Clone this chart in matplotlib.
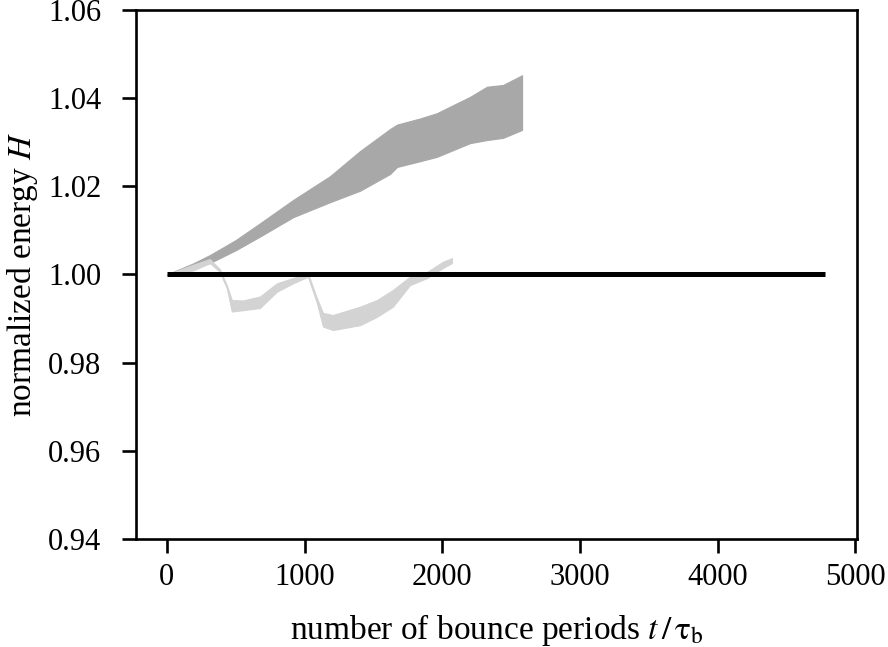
import numpy as np
import matplotlib
matplotlib.use("Agg")
import matplotlib.pyplot as plt

# 数据：包络线
t_dark = [0, 190, 312, 500, 676, 917, 1185, 1403, 1621, 1672, 1839, 1962, 2078, 2202, 2325, 2442, 2580]
dark_hi = [1.0, 1.0025, 1.0044, 1.0078, 1.0116, 1.0169, 1.0223, 1.0280, 1.0330, 1.0340, 1.0354, 1.0366, 1.0384, 1.0403, 1.0426, 1.0430, 1.0452]
dark_lo = [1.0, 1.0014, 1.0026, 1.0055, 1.0086, 1.0130, 1.0164, 1.0190, 1.0228, 1.0244, 1.0257, 1.0267, 1.0282, 1.0298, 1.0305, 1.0310, 1.0328]

t_light = [0, 189, 312, 385, 436, 472, 552, 676, 799, 917, 1025, 1090, 1134, 1206, 1403, 1526, 1642, 1766, 1890, 2006, 2071]
light_hi = [1.0, 1.0022, 1.0035, 1.0012, 0.9975, 0.9942, 0.9941, 0.9950, 0.9980, 0.9992, 1.0003, 0.9946, 0.9913, 0.9908, 0.9927, 0.9942, 0.9965, 0.9995, 1.0006, 1.0029, 1.0037]
light_lo = [1.0, 1.0009, 1.0026, 1.0006, 0.9968, 0.9916, 0.9919, 0.9924, 0.9961, 0.9980, 0.9995, 0.9935, 0.9882, 0.9874, 0.9885, 0.9904, 0.9927, 0.9976, 0.9992, 1.0015, 1.0026]

t_black = [0, 4782]
h_black = [1.0, 1.0]

xticks = [0, 1000, 2000, 3000, 4000, 5000]
yticks = [0.94, 0.96, 0.98, 1.00, 1.02, 1.04, 1.06]

plt.rcParams['font.family'] = ['Liberation Serif', 'DejaVu Serif']
plt.rcParams['mathtext.fontset'] = 'stix'

fig = plt.figure(figsize=(8.88, 6.47), dpi=100)
ax = fig.add_axes([0.153, 0.167, 0.812, 0.8175])

ax.fill_between(t_dark, dark_lo, dark_hi, color='#a8a8a8', linewidth=0.8, edgecolor='#a8a8a8')
ax.fill_between(t_light, light_lo, light_hi, color='#d3d3d3', linewidth=0.8, edgecolor='#d3d3d3')
ax.plot(t_black, h_black, color='black', linewidth=3.6, solid_capstyle='butt')

ax.set_xlim(-225, 5012)
ax.set_ylim(0.94, 1.06)
ax.set_xticks(xticks)
ax.set_yticks(yticks)
ax.set_yticklabels([f"{v:.2f}" for v in yticks])

for s in ax.spines.values():
    s.set_linewidth(1.9)
ax.tick_params(direction='out', length=10, width=1.9, labelsize=22, top=False, right=False)
ax.tick_params(axis='x', pad=7)
ax.tick_params(axis='y', pad=15)

ax.set_xlabel(r'number of bounce periods $t\,/\,\mathrm{\tau}_{\mathrm{b}}$', fontsize=24, labelpad=15)
ax.set_ylabel(r'normalized energy $H$', fontsize=24, labelpad=6)

fig.savefig('out.png', dpi=100)
